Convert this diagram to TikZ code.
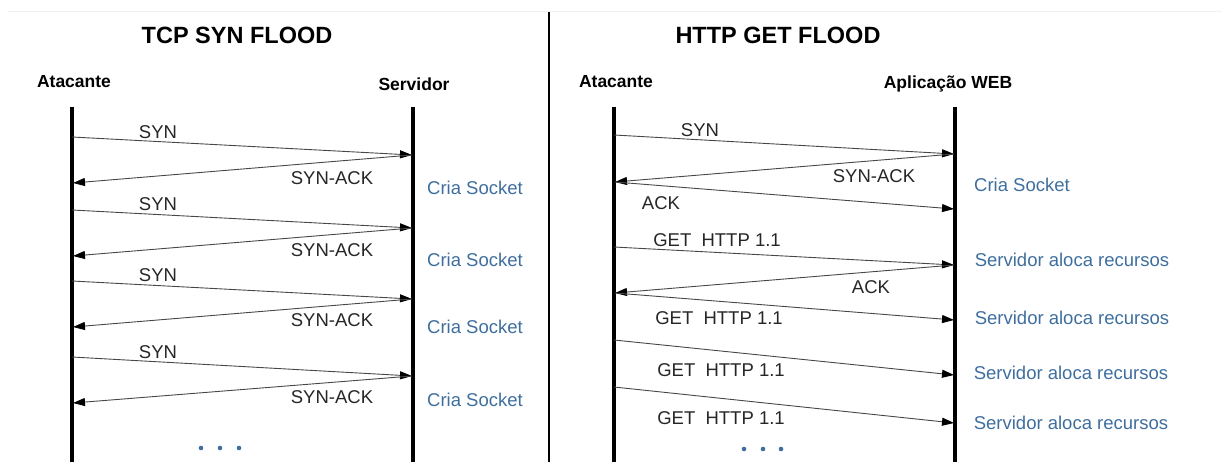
\documentclass[tikz,border=0pt]{standalone}
\usepackage{fontspec}
\setmainfont{Liberation Sans}
\usetikzlibrary{arrows.meta}
\definecolor{sockblue}{RGB}{62,110,158}
\tikzset{
  lifeline/.style={line width=3.3pt},
  msg/.style={draw=black!72, line width=0.9pt, -{Triangle[length=12pt,width=8pt,black]}},
  lbl/.style={text=black!85, font=\fontsize{18.5}{20}\selectfont},
  note/.style={text=sockblue, font=\fontsize{18.5}{20}\selectfont},
  actor/.style={font=\bfseries\fontsize{17.5}{19}\selectfont},
  paneltitle/.style={font=\bfseries\fontsize{23.5}{26}\selectfont}
}

\begin{document}
\begin{tikzpicture}[x=1pt, y=-1pt]
        \useasboundingbox (0,0) rectangle (1222,462);
        \draw[black!6, line width=1pt] (8,12) -- (1222,12);
        \draw[line width=2pt] (549,12) -- (549,462);

        % TCP SYN FLOOD
        \node[paneltitle] (tcptitle) at (237,35) {TCP SYN FLOOD};
        \node[actor] (atk1) at (74,82) {Atacante};
        \node[actor] (srv) at (414,84) {Servidor};
        \coordinate (atk1top) at (72,107);
        \coordinate (atk1bot) at (72,462);
        \coordinate (srvtop) at (413,107);
        \coordinate (srvbot) at (413,462);
        \draw[lifeline] (atk1top) -- (atk1bot);
        \draw[lifeline] (srvtop) -- (srvbot);

        \coordinate (a1) at (72,137); \coordinate (s1) at (412,155); \coordinate (a2) at (73,183);
        \coordinate (a3) at (72,210); \coordinate (s2) at (412,228); \coordinate (a4) at (73,256);
        \coordinate (a5) at (72,281); \coordinate (s3) at (412,299); \coordinate (a6) at (73,327);
        \coordinate (a7) at (72,357); \coordinate (s4) at (412,376); \coordinate (a8) at (73,403);

        \draw[msg] (a1) -- (s1);
        \draw[msg] (s1) -- (a2);
        \draw[msg] (a3) -- (s2);
        \draw[msg] (s2) -- (a4);
        \draw[msg] (a5) -- (s3);
        \draw[msg] (s3) -- (a6);
        \draw[msg] (a7) -- (s4);
        \draw[msg] (s4) -- (a8);

        \node[lbl] (syn1) at (158,132) {SYN};
        \node[lbl] (synack1) at (332,178) {SYN-ACK};
        \node[note] (cria1) at (475,188) {Cria Socket};
        \node[lbl] (syn2) at (158,204) {SYN};
        \node[lbl] (synack2) at (332,250) {SYN-ACK};
        \node[note] (cria2) at (475,260) {Cria Socket};
        \node[lbl] (syn3) at (158,275) {SYN};
        \node[lbl] (synack3) at (332,320) {SYN-ACK};
        \node[note] (cria3) at (475,327) {Cria Socket};
        \node[lbl] (syn4) at (158,352) {SYN};
        \node[lbl] (synack4) at (332,397) {SYN-ACK};
        \node[note] (cria4) at (475,400) {Cria Socket};

        \fill[sockblue] (201,448) circle (2.3) (220,448) circle (2.3) (239,448) circle (2.3);

        % HTTP GET FLOOD
        \node[paneltitle] (httptitle) at (778,35) {HTTP GET FLOOD};
        \node[actor] (atk2) at (616,82) {Atacante};
        \node[actor] (web) at (948,84) {Aplicação WEB};
        \coordinate (atk2top) at (614,107);
        \coordinate (atk2bot) at (614,462);
        \coordinate (webtop) at (955,107);
        \coordinate (webbot) at (955,462);
        \draw[lifeline] (atk2top) -- (atk2bot);
        \draw[lifeline] (webtop) -- (webbot);

        \coordinate (b1) at (614,135); \coordinate (w1) at (954,154);
        \coordinate (b2) at (615,182); \coordinate (w2) at (954,209);
        \coordinate (b3) at (614,247); \coordinate (w3) at (954,265);
        \coordinate (b4) at (615,293); \coordinate (w4) at (954,320);
        \coordinate (b5) at (614,340); \coordinate (w5) at (954,375);
        \coordinate (b6) at (614,387); \coordinate (w6) at (954,423);

        \draw[msg] (b1) -- (w1);
        \draw[msg] (w1) -- (b2);
        \draw[msg] (b2) -- (w2);
        \draw[msg] (b3) -- (w3);
        \draw[msg] (w3) -- (b4);
        \draw[msg] (b4) -- (w4);
        \draw[msg] (b5) -- (w5);
        \draw[msg] (b6) -- (w6);

        \node[lbl] (syn5) at (700,130) {SYN};
        \node[lbl] (synack5) at (874,176) {SYN-ACK};
        \node[note] (cria5) at (1022,185) {Cria Socket};
        \node[lbl] (ack1) at (661,203) {ACK};
        \node[lbl] (get1) at (717,240) {GET\ \ HTTP 1.1};
        \node[note] (aloca1) at (1072,260) {Servidor aloca recursos};
        \node[lbl] (ack2) at (871,287) {ACK};
        \node[lbl] (get2) at (719,318) {GET\ \ HTTP 1.1};
        \node[note] (aloca2) at (1072,318) {Servidor aloca recursos};
        \node[lbl] (get3) at (721,370) {GET\ \ HTTP 1.1};
        \node[note] (aloca3) at (1071,373) {Servidor aloca recursos};
        \node[lbl] (get4) at (721,418) {GET\ \ HTTP 1.1};
        \node[note] (aloca4) at (1071,423) {Servidor aloca recursos};

        \fill[sockblue] (744,449) circle (2.3) (763,449) circle (2.3) (781,449) circle (2.3);
\end{tikzpicture}
\end{document}
